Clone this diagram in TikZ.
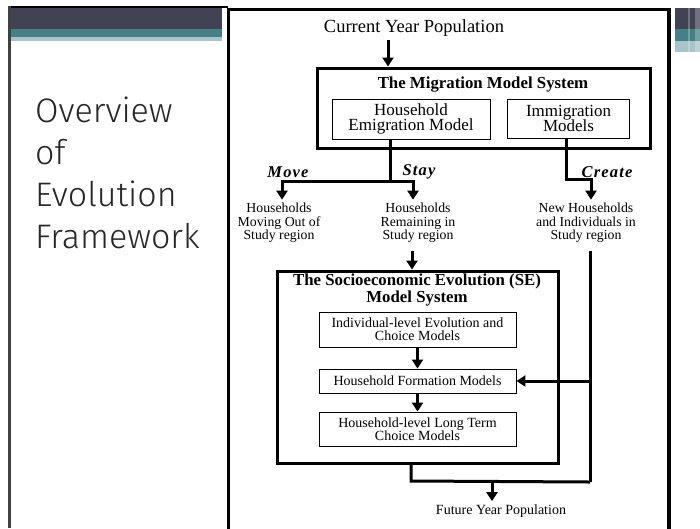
\documentclass[tikz,border=0pt]{standalone}
\usepackage{fontspec}
\setmainfont{Liberation Serif}
\newfontfamily\slidefont{Fira Sans Light}
\usetikzlibrary{arrows.meta,calc}

\definecolor{banddark}{HTML}{414355}
\definecolor{bandteal}{HTML}{467F85}
\definecolor{bandlight}{HTML}{A6C4C9}

\begin{document}
\begin{tikzpicture}[x=1pt,y=-1pt,
  conn/.style={line width=3pt},
  arr/.style={line width=3pt,-{Triangle[width=11pt,length=9pt]}},
  bigbox/.style={draw,line width=3pt,inner sep=0pt},
  modelbox/.style={draw,line width=0.9pt,align=center,inner sep=0pt,
    font=\fontsize{14}{13}\selectfont},
  choice/.style={font=\fontsize{16.5}{16.5}\selectfont\bfseries\itshape\addfontfeature{LetterSpace=7}},
  group/.style={align=center,font=\fontsize{13.8}{13.5}\selectfont},
  boxtitle/.style={align=center,font=\fontsize{16.8}{12.5}\selectfont\bfseries},
]
\useasboundingbox (0,0) rectangle (700,528);

% slide decoration on the left
\fill[banddark] (11,8) rectangle (222,29);
\fill[bandteal] (11,29) rectangle (222,37);
\fill[bandlight] (11,37) rectangle (222,41);
\draw[line width=2.5pt] (8,7) -- (228,7);
\draw[line width=3pt,black!75] (9.5,6) -- (9.5,528);

% slide decoration on the right
\fill[banddark] (675,8) rectangle (700,29);
\fill[bandteal] (675,29) rectangle (700,41);
\fill[bandlight] (675,41) rectangle (700,52);
\fill[white,opacity=0.25] (688,8) rectangle (690,52);
\fill[white,opacity=0.25] (695,8) rectangle (700,53);

% frame of the figure
\draw[line width=3.5pt] (228.7,9.5) rectangle (669,535);

% slide title
\node[anchor=base west,align=left,inner sep=0pt,text=black!85,
  font=\slidefont\fontsize{34}{41.7}\selectfont] (title) at (35,248)
  {Overview\\of\\Evolution\\Framework};

% migration stage
\node[font=\fontsize{18.5}{18}\selectfont] (cur) at (414,28) {Current Year Population};
\node[bigbox,minimum width=333pt,minimum height=80pt] (mig) at (483.5,108) {};
\node[boxtitle] (migt) at (483,85) {The Migration Model System};
\node[modelbox,font=\fontsize{17}{15.5}\selectfont,minimum width=158pt,minimum height=40pt]
  (emig) at (411,119) {Household\\Emigration Model};
\node[modelbox,font=\fontsize{17}{15.5}\selectfont,minimum width=122pt,minimum height=39pt]
  (immig) at (568.5,118.5) {Immigration\\Models};

\node[choice] (move) at (288,172) {Move};
\node[choice] (stay) at (419,172) {Stay};
\node[choice] (create) at (607,172) {Create};

\node[group] (hmove) at (279,223) {Households\\Moving Out of\\Study region};
\node[group] (hstay) at (418,223) {Households\\Remaining in\\Study region};
\node[group] (hnew) at (586,223) {New Households\\and Individuals in\\Study region};

% socioeconomic evolution stage
\node[bigbox,minimum width=281pt,minimum height=192pt] (se) at (417.5,367) {};
\node[boxtitle] (set) at (417,290)
  {The Socioeconomic Evolution (SE)\\Model System};
\node[modelbox,minimum width=197pt,minimum height=35pt] (b1) at (417.5,329.5)
  {Individual-level Evolution and\\Choice Models};
\node[modelbox,minimum width=197pt,minimum height=24pt] (b2) at (417.5,381)
  {Household Formation Models};
\node[modelbox,minimum width=197pt,minimum height=34pt] (b3) at (417.5,429)
  {Household-level Long Term\\Choice Models};

\node[font=\fontsize{14}{14}\selectfont] (fut) at (501,511) {Future Year Population};

% connectors
\coordinate (cx) at (388,0);
\draw[arr] (cur.south -| cx) -- (mig.north -| cx);

\coordinate (split) at (390,181);
\draw[conn] (emig.south -| split) -- (split);
\draw[arr] (split) -| ([xshift=3pt]hmove.north);
\draw[arr] (split) -| ([xshift=-5pt]hstay.north);

\coordinate (cl) at (566,179);
\coordinate (cr) at (591,179);
\draw[arr] (immig.south -| cl) -- (cl) -- (cr) -- (cr |- hnew.north);

\coordinate (sx) at (412,0);
\draw[arr,shorten <=5pt] (hstay.south -| sx) -- (se.north -| sx);

\draw[arr] (b1.south) -- (b2.north);
\draw[arr] (b2.south) -- (b3.north);

\coordinate (rx) at (590,482);
\draw[conn,shorten <=5pt] (hnew.south -| rx) -- (rx);
\draw[arr] (b2.east -| rx) -- (b2.east);

\coordinate (lx) at (411,481);
\draw[conn] (se.south -| lx) -- (lx) -- (rx);
\coordinate (fx) at (492,481);
\draw[arr] (fx) -- (fx |- fut.north);
\end{tikzpicture}
\end{document}
